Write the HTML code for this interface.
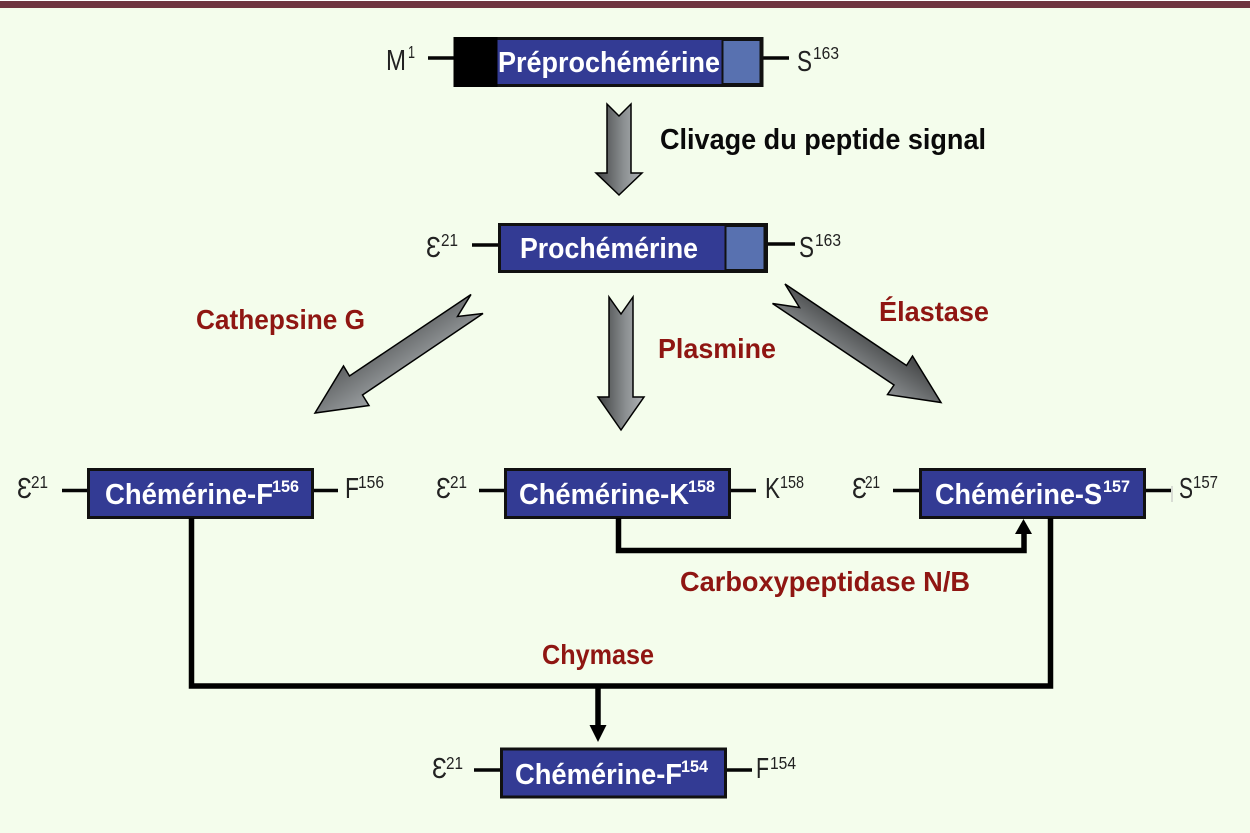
<!DOCTYPE html>
<html lang="fr">
<head>
<meta charset="utf-8">
<title>Chémérine</title>
<style>
html,body{margin:0;padding:0;background:#f4fdec;}
svg{display:block;}
text{font-family:"Liberation Sans","DejaVu Sans",sans-serif;}
.w{fill:#fff;font-weight:bold;font-size:29px;}
.ws{fill:#fff;font-weight:bold;font-size:17px;}
.k{fill:#0a0a0a;font-weight:bold;font-size:29px;}
.r{fill:#8f1612;font-weight:bold;font-size:28px;}
.t{fill:#222;font-size:29px;}
.s{fill:#222;font-size:17.500px;}
.box{fill:#333b94;stroke:#111;stroke-width:3;}
.lt{fill:#5871b0;stroke:#111;stroke-width:2;}
.ln{stroke:#050505;stroke-width:3.5;fill:none;}
.cn{stroke:#000;stroke-width:5.500;fill:none;}
.ar{stroke:#000;stroke-width:1.500;stroke-linejoin:miter;}
</style>
</head>
<body>
<svg width="1250" height="833" viewBox="0 0 1250 833" xmlns="http://www.w3.org/2000/svg">
<defs>
<linearGradient id="gv" x1="0" y1="0" x2="1" y2="0">
<stop offset="0" stop-color="#404243"/><stop offset=".6" stop-color="#8b8f91"/><stop offset="1" stop-color="#b0b4b6"/>
</linearGradient>
<linearGradient id="gl" gradientUnits="userSpaceOnUse" x1="375" y1="325" x2="425" y2="400">
<stop offset="0" stop-color="#4a4c4d"/><stop offset=".6" stop-color="#8f9395"/><stop offset="1" stop-color="#b0b4b6"/>
</linearGradient>
<linearGradient id="gr" gradientUnits="userSpaceOnUse" x1="865" y1="330" x2="825" y2="390">
<stop offset="0" stop-color="#4a4c4d"/><stop offset=".6" stop-color="#8f9395"/><stop offset="1" stop-color="#b0b4b6"/>
</linearGradient>
</defs>

<rect width="1250" height="833" fill="#f4fdec"/>
<rect x="0" y="0" width="1250" height="1" fill="#fff"/>
<rect x="0" y="1" width="1250" height="7" fill="#6f3540"/>

<!-- Préprochémérine -->
<line class="ln" x1="428" y1="58" x2="455" y2="58"/>
<line class="ln" x1="762" y1="58" x2="789" y2="58"/>
<rect x="455" y="38.500" width="307" height="47" fill="#333b94" stroke="#111" stroke-width="3"/>
<rect x="455" y="38.500" width="41" height="47" fill="#000" stroke="#000" stroke-width="3"/>
<rect class="lt" x="722.500" y="40" width="38" height="44"/>
<text class="w" x="498" y="72" textLength="222" lengthAdjust="spacingAndGlyphs">Préprochémérine</text>
<text class="t" x="386" y="70" textLength="20" lengthAdjust="spacingAndGlyphs">M</text>
<text class="s" x="408" y="58" textLength="7" lengthAdjust="spacingAndGlyphs">1</text>
<text class="t" x="797" y="71" textLength="15" lengthAdjust="spacingAndGlyphs">S</text>
<text class="s" x="813" y="59" textLength="26" lengthAdjust="spacingAndGlyphs">163</text>

<!-- Arrow 1 -->
<polygon class="ar" fill="url(#gv)" points="607,104 619,116 631,104 631,173 642,173 619,195 596,173 607,173"/>
<text class="k" x="660" y="149" textLength="326" lengthAdjust="spacingAndGlyphs">Clivage du peptide signal</text>

<!-- Prochémérine -->
<line class="ln" x1="472" y1="245" x2="499" y2="245"/>
<line class="ln" x1="766" y1="244" x2="795" y2="244"/>
<rect class="box" x="499.500" y="224.500" width="267" height="47"/>
<rect class="lt" x="725.500" y="226" width="39" height="44"/>
<text class="w" x="520" y="258" textLength="178" lengthAdjust="spacingAndGlyphs">Prochémérine</text>
<text class="t" x="426" y="257" textLength="15" lengthAdjust="spacingAndGlyphs">Ɛ</text>
<text class="s" x="441" y="246" textLength="17" lengthAdjust="spacingAndGlyphs">21</text>
<text class="t" x="799" y="257" textLength="15" lengthAdjust="spacingAndGlyphs">S</text>
<text class="s" x="815" y="246" textLength="26" lengthAdjust="spacingAndGlyphs">163</text>

<!-- Gray arrows -->
<polygon class="ar" fill="url(#gl)" points="471,294.500 457.500,316.500 483,313.500 362.500,395 369,405.500 315,413 343.500,366 349.500,376"/>
<polygon class="ar" fill="url(#gv)" points="609,297 621,314 633,297 633,397 644,397 621,430 598,397 609,397"/>
<polygon class="ar" fill="url(#gr)" points="785,284 799.500,307.500 772.500,303.500 894,385 887.500,394.500 941,402.500 912.500,356 906.500,365.500"/>

<text class="r" x="196" y="329" textLength="169" lengthAdjust="spacingAndGlyphs">Cathepsine G</text>
<text class="r" x="658" y="358" textLength="118" lengthAdjust="spacingAndGlyphs">Plasmine</text>
<text class="r" x="879" y="321" textLength="110" lengthAdjust="spacingAndGlyphs">Élastase</text>

<!-- Chémérine-F156 -->
<line class="ln" x1="62" y1="490.500" x2="89" y2="490.500"/>
<line class="ln" x1="312" y1="490.500" x2="338" y2="490.500"/>
<rect class="box" x="88.500" y="469.500" width="224" height="48"/>
<text class="w" x="105" y="504" textLength="168" lengthAdjust="spacingAndGlyphs">Chémérine-F</text>
<text class="ws" x="272" y="492" textLength="27" lengthAdjust="spacingAndGlyphs">156</text>
<text class="t" x="17" y="498" textLength="15" lengthAdjust="spacingAndGlyphs">Ɛ</text>
<text class="s" x="31" y="488" textLength="17" lengthAdjust="spacingAndGlyphs">21</text>
<text class="t" x="345" y="498" textLength="14" lengthAdjust="spacingAndGlyphs">F</text>
<text class="s" x="358" y="488" textLength="26" lengthAdjust="spacingAndGlyphs">156</text>

<!-- Chémérine-K158 -->
<line class="ln" x1="479" y1="490.500" x2="506" y2="490.500"/>
<line class="ln" x1="730" y1="490.500" x2="756" y2="490.500"/>
<rect class="box" x="505.500" y="469.500" width="224" height="48"/>
<text class="w" x="519" y="504" textLength="170" lengthAdjust="spacingAndGlyphs">Chémérine-K</text>
<text class="ws" x="688" y="492" textLength="27" lengthAdjust="spacingAndGlyphs">158</text>
<text class="t" x="436" y="498" textLength="15" lengthAdjust="spacingAndGlyphs">Ɛ</text>
<text class="s" x="450" y="488" textLength="17" lengthAdjust="spacingAndGlyphs">21</text>
<text class="t" x="765" y="498" textLength="15" lengthAdjust="spacingAndGlyphs">K</text>
<text class="s" x="780" y="488" textLength="24" lengthAdjust="spacingAndGlyphs">158</text>

<!-- Chémérine-S157 -->
<line class="ln" x1="893" y1="490.500" x2="920" y2="490.500"/>
<line class="ln" x1="1145" y1="490.500" x2="1171" y2="490.500"/>
<rect class="box" x="920.500" y="469.500" width="224" height="48"/>
<text class="w" x="935" y="504" textLength="167" lengthAdjust="spacingAndGlyphs">Chémérine-S</text>
<text class="ws" x="1103" y="492" textLength="27" lengthAdjust="spacingAndGlyphs">157</text>
<text class="t" x="852" y="498" textLength="15" lengthAdjust="spacingAndGlyphs">Ɛ</text>
<text class="s" x="865" y="488" textLength="15" lengthAdjust="spacingAndGlyphs">21</text>
<text class="t" x="1179" y="498" textLength="14" lengthAdjust="spacingAndGlyphs">S</text>
<text class="s" x="1193" y="488" textLength="25" lengthAdjust="spacingAndGlyphs">157</text>
<line x1="1172" y1="486" x2="1172" y2="502" stroke="#bbb" stroke-width="1"/>

<!-- Connectors -->
<polyline class="cn" points="618.500,518 618.500,550.500 1024,550.500 1024,530"/>
<polygon points="1023.500,519 1032,534 1015,534" fill="#000"/>
<polyline class="cn" points="191.500,518 191.500,686 1050.500,686 1050.500,518"/>
<line class="cn" x1="598" y1="686" x2="598" y2="727"/>
<polygon points="598,742 589.500,725 606.500,725" fill="#000"/>

<text class="r" x="680" y="591" textLength="290" lengthAdjust="spacingAndGlyphs">Carboxypeptidase N/B</text>
<text class="r" x="542" y="664" textLength="112" lengthAdjust="spacingAndGlyphs">Chymase</text>

<!-- Chémérine-F154 -->
<line class="ln" x1="474" y1="770" x2="501" y2="770"/>
<line class="ln" x1="725" y1="770" x2="752" y2="770"/>
<rect class="box" x="501.500" y="749" width="224" height="48"/>
<text class="w" x="515" y="784" textLength="167" lengthAdjust="spacingAndGlyphs">Chémérine-F</text>
<text class="ws" x="681" y="772" textLength="27" lengthAdjust="spacingAndGlyphs">154</text>
<text class="t" x="432" y="778" textLength="15" lengthAdjust="spacingAndGlyphs">Ɛ</text>
<text class="s" x="446" y="769" textLength="17" lengthAdjust="spacingAndGlyphs">21</text>
<text class="t" x="756" y="778" textLength="13" lengthAdjust="spacingAndGlyphs">F</text>
<text class="s" x="770" y="769" textLength="26" lengthAdjust="spacingAndGlyphs">154</text>
</svg>
</body>
</html>
